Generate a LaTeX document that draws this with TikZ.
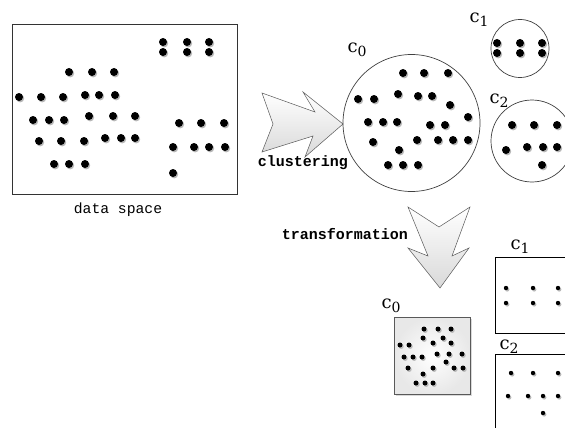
\documentclass[tikz,border=0pt]{standalone}
\usepackage{fontspec}
\newfontfamily\monofont{Liberation Mono}
\newfontfamily\labfont{DejaVu Serif}
\newcommand\mydots[2]{\foreach \x/\y in {#2} {\fill[dotshadow] (\x+1.2,\y+1.4) circle (#1); \fill[black] (\x,\y) circle (#1);}}
\newcommand\clabel[1]{c\raisebox{-4pt}{\fontsize{14}{14}\selectfont #1}}
\begin{document}
\begin{tikzpicture}[x=1pt,y=-1pt,
  dotshadow/.style={fill=black!28},
  clusterc/.style={circle,draw=black!75,line width=0.7pt,inner sep=0pt},
  clab/.style={font=\labfont\fontsize{18}{20}\selectfont,inner sep=0pt},
  mlab/.style={font=\monofont\fontsize{14.7}{16}\selectfont,inner sep=0pt},
  blab/.style={font=\monofont\bfseries\fontsize{15}{16}\selectfont,inner sep=0pt},
  bigarrow/.style={draw=black!65,line width=0.5pt,top color=white,bottom color=black!15},
  pbox/.style={draw=black,line width=0.8pt,inner sep=0pt,anchor=north west}]
\clip (0,0) rectangle (565,428);
\fill[white] (0,0) rectangle (565,428);

% data space
\node[pbox,draw=black!80,line width=1pt,minimum width=225pt,minimum height=170pt] (ds) at (12,24) {};
\node[mlab] (dslab) at (118,210) {data space};
\mydots{4}{163/42,187/42,209/42,163/52,187/52,209/52,
69/72,92/72,114/72,
19/97,41/97,63/97,85/95,99/95,115/95,
33/120,49/120,64/120,89/116,113/116,135/116,
39/141,61/141,84/141,105/138,121/138,135/138,
54/164,69/164,85/164,
179/123,201/123,224/123,
173/147,194/147,209/147,225/147,
173/173}

% clustering arrow
\path[bigarrow] (262,93) -- (315,112) -- (303,92) -- (343,124) -- (305,157) -- (313,136) -- (262,152) -- (273,124) -- cycle;
\node[blab] (clus) at (303,163) {clustering};

% clusters as circles
\node[clusterc,minimum size=137pt] (C0) at (411.5,123) {};
\node[clusterc,minimum size=58pt] (C1) at (520,48.5) {};
\node[clusterc,minimum size=82pt] (C2) at (532,141) {};
\node[clab] (l0) at (357,50) {\clabel{0}};
\node[clab] (l1) at (479,20) {\clabel{1}};
\node[clab] (l2) at (499,101) {\clabel{2}};
\mydots{4}{403/73,424/73,448/73, 358/99,374/99, 398/94,418/96,432/96, 450/105,
368/122,383/122,397/122, 468/117, 430/125,445/125,
373/142, 417/140,438/140,453/140,468/140, 399/150,
388/165,403/165,418/165}
\mydots{4}{497/43,520/43,542/43,497/53,520/53,542/53}
\mydots{4}{512/125,534/125,557/125, 506/150, 527/147,543/147,557/147, 542/165}

% transformation arrow
\path[bigarrow] (408,207) -- (439,227) -- (470,207) -- (452,256) -- (469,248) -- (440,288) -- (408,248) -- (428,256) -- cycle;
\node[blab] (trans) at (345,234) {transformation};

% transformed clusters
\fill[black!15] (396,319) rectangle (472,396);
\node[pbox,draw=black!65,line width=0.6pt,inner color=white,outer color=black!9,minimum width=76pt,minimum height=77pt] (B0) at (394,317) {};
\node[pbox,minimum width=110pt,minimum height=76pt] (B1) at (495,257) {};
\node[pbox,minimum width=110pt,minimum height=100pt] (B2) at (495,354) {};
\node[clab] (m0) at (391,306) {\clabel{0}};
\node[clab] (m1) at (520,247) {\clabel{1}};
\node[clab] (m2) at (509,347) {\clabel{2}};
\mydots{2.5}{424/329,438/329,451/329, 423/338,443/338, 433/343,451/343, 400/345,409/345,
404/357,413/357,422/357, 437/354,449/354,462/354, 446/362,
408/368,433/368,454/368,463/368, 423/374, 416/383,425/383,433/383}
\mydots{2.2}{506/288,533/288,558/288,506/303,533/303,558/303}
\mydots{2.2}{511/373,533/373,558/373, 508/396, 528/396,543/396,558/396, 543/413}
\end{tikzpicture}
\end{document}
